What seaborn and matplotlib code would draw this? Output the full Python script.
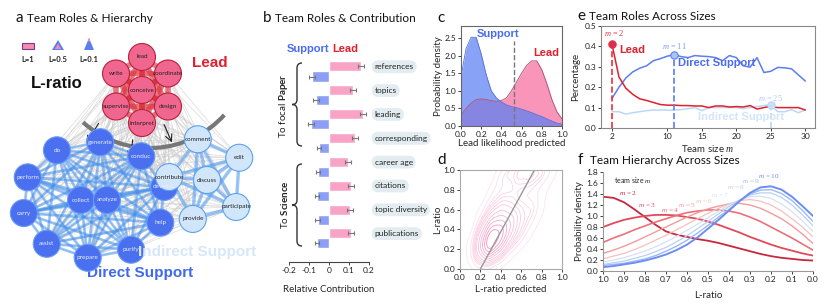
import numpy as np
import pandas as pd
import matplotlib.pyplot as plt
from matplotlib.patches import Circle, Rectangle, Polygon, Arc, PathPatch
from matplotlib.path import Path
from matplotlib.colors import LinearSegmentedColormap
import seaborn as sns

sns.set_theme(style="ticks")
plt.rcParams['font.family'] = ['Lato', 'DejaVu Sans']
plt.rcParams['mathtext.fontset'] = 'custom'
plt.rcParams['mathtext.it'] = 'Liberation Serif:italic'
plt.rcParams['mathtext.bf'] = 'Lato:bold'
plt.rcParams['mathtext.rm'] = 'Lato'

W, H = 831, 308
RED = '#e0202e'
BLUE = '#4a6cf0'

# ---- data ----
# a: role network
lead_core = ['conceive']
lead_ring = ['lead', 'write', 'supervise', 'interpret', 'design', 'coordinate']
direct_core = ['collect', 'analyze']
direct_ring = ['help', 'develop', 'conduct', 'generate', 'do', 'perform', 'carry', 'assist', 'prepare', 'purify']
indirect_core = ['discuss']
indirect_ring = ['participate', 'edit', 'comment', 'contribute', 'provide']
node_labels = {'generate': 'generate', 'conduct': 'conduc'}

# b: relative contribution
features = ['references', 'topics', 'leading', 'corresponding',
            'career age', 'citations', 'topic diversity', 'publications']
lead_contrib = [0.16, 0.12, 0.17, 0.13, 0.095, 0.11, 0.105, 0.108]
support_contrib = [-0.085, -0.065, -0.09, -0.05, -0.055, -0.06, -0.057, -0.06]
lead_err = [0.015, 0.015, 0.015, 0.015, 0.015, 0.015, 0.015, 0.015]
support_err = [0.015, 0.015, 0.015, 0.012, 0.012, 0.012, 0.012, 0.012]

# c: lead likelihood densities
likelihood = [0, .05, .1, .15, .2, .25, .3, .35, .4, .45, .5, .55, .6, .65, .7, .75, .8, .85, .9, .95, 1.0]
dens_support = [1.4, 2.2, 2.52, 2.52, 2.05, 1.45, 1.0, 0.8, 0.68, 0.6, 0.55, 0.52, 0.48, 0.43,
                0.38, 0.32, 0.27, 0.2, 0.14, 0.08, 0.05]
dens_lead = [0.3, 0.5, 0.65, 0.75, 0.77, 0.75, 0.72, 0.7, 0.72, 0.8, 1.0, 1.25, 1.5, 1.72,
             1.85, 1.85, 1.6, 1.2, 0.75, 0.4, 0.2]
threshold = 0.52

# d: L-ratio vs predicted (density grid, rows = L-ratio 0..1)
grid_vals = [0.0, 0.1, 0.2, 0.3, 0.4, 0.5, 0.6, 0.7, 0.8, 0.9, 1.0]
density_grid = [
    [0, 0, 0.3, 0.5, 0.3, 0, 0, 0, 0, 0, 0],
    [0, 0.3, 1.5, 2, 1, 0.3, 0, 0, 0, 0, 0],
    [0, 0.5, 3, 6, 3, 1, 0.3, 0, 0, 0, 0],
    [0, 0.5, 3, 8, 5, 2, 1, 0.3, 0, 0, 0],
    [0, 0, 2, 5, 5, 3, 1.5, 0.5, 0, 0, 0],
    [0, 0, 1, 3, 3.5, 3, 1.5, 1, 0.3, 0, 0],
    [0, 0, 0.5, 1.5, 2.5, 2, 1.5, 1.5, 0.5, 0, 0],
    [0, 0, 0, 1, 1.5, 1.5, 1, 1, 0.5, 0, 0],
    [0, 0, 0, 0.5, 1, 1, 1, 1, 0.5, 0, 0],
    [0, 0, 0, 0, 1, 1, 1.5, 1.5, 1, 0.5, 0],
    [0, 0, 0, 0, 1, 2, 3, 3, 2, 1, 0],
]
fit_x = [0.2, 0.73]
fit_y = [0.0, 1.0]

# e: role shares across team sizes
team_size = list(range(2, 31))
share_lead = [0.41, 0.25, 0.195, 0.165, 0.143, 0.135, 0.125, 0.115, 0.112, 0.112, 0.11, 0.11,
              0.108, 0.108, 0.1, 0.108, 0.108, 0.103, 0.105, 0.103, 0.11, 0.093, 0.1, 0.107,
              0.1, 0.1, 0.1, 0.1, 0.088]
share_direct = [0.145, 0.2, 0.245, 0.275, 0.293, 0.305, 0.33, 0.34, 0.352, 0.36, 0.35, 0.345,
                0.355, 0.352, 0.35, 0.345, 0.33, 0.355, 0.345, 0.305, 0.298, 0.345, 0.272,
                0.278, 0.297, 0.295, 0.29, 0.26, 0.23]
share_indirect = [0.08, 0.08, 0.068, 0.075, 0.08, 0.085, 0.088, 0.088, 0.088, 0.088, 0.09, 0.095,
                  0.1, 0.085, 0.1, 0.1, 0.1, 0.1, 0.1, 0.095, 0.1, 0.105, 0.11, 0.115, 0.08,
                  0.08, 0.09, 0.075, 0.09]

# f: L-ratio densities by team size
lratio = [1.0, .95, .9, .85, .8, .75, .7, .65, .6, .55, .5, .45, .4, .35, .3, .25, .2, .15, .1, .05, 0.0]
hier = {
    2: [1.35, 1.33, 1.25, 1.12, 0.98, 0.84, 0.72, 0.66, 0.62, 0.58, 0.55, 0.51, 0.46, 0.41, 0.36, 0.31, 0.27, 0.24, 0.22, 0.2, 0.19],
    3: [0.80, 0.87, 0.93, 0.97, 1.0, 1.02, 1.02, 1.01, 0.98, 0.95, 0.9, 0.84, 0.77, 0.7, 0.62, 0.55, 0.48, 0.42, 0.37, 0.32, 0.28],
    4: [0.52, 0.60, 0.67, 0.75, 0.82, 0.89, 0.95, 1.01, 1.06, 1.09, 1.11, 1.11, 1.09, 1.05, 0.98, 0.9, 0.8, 0.7, 0.6, 0.49, 0.38],
    5: [0.32, 0.38, 0.45, 0.53, 0.62, 0.71, 0.80, 0.89, 0.98, 1.06, 1.13, 1.18, 1.22, 1.23, 1.2, 1.14, 1.05, 0.95, 0.82, 0.67, 0.5],
    6: [0.22, 0.27, 0.32, 0.39, 0.47, 0.56, 0.65, 0.75, 0.85, 0.95, 1.05, 1.14, 1.22, 1.28, 1.3, 1.27, 1.2, 1.09, 0.95, 0.8, 0.62],
    7: [0.16, 0.2, 0.24, 0.3, 0.36, 0.44, 0.53, 0.63, 0.74, 0.85, 0.97, 1.09, 1.2, 1.29, 1.35, 1.36, 1.32, 1.22, 1.08, 0.91, 0.72],
    8: [0.12, 0.15, 0.18, 0.23, 0.28, 0.35, 0.43, 0.53, 0.64, 0.77, 0.9, 1.04, 1.17, 1.29, 1.38, 1.42, 1.42, 1.34, 1.2, 1.02, 0.82],
    9: [0.1, 0.12, 0.14, 0.18, 0.22, 0.28, 0.36, 0.45, 0.56, 0.69, 0.83, 0.98, 1.12, 1.27, 1.4, 1.47, 1.48, 1.41, 1.28, 1.1, 0.9],
    10: [0.07, 0.09, 0.12, 0.15, 0.19, 0.24, 0.3, 0.38, 0.48, 0.61, 0.77, 0.93, 1.1, 1.27, 1.42, 1.52, 1.54, 1.48, 1.35, 1.18, 1.0],
}
hier_colors = {2: '#c8283c', 3: '#e04a5a', 4: '#ec7078', 5: '#f39a9c', 6: '#f7c0bd',
               7: '#d3e3f7', 8: '#b8d0f6', 9: '#9cb8f5', 10: '#6b8ef2'}
hier_lw = {2: 1.3, 3: 1.3, 4: 1.2, 5: 1.0, 6: 0.9, 7: 0.9, 8: 0.9, 9: 1.0, 10: 1.4}
hier_label_pos = {2: (0.88, 1.42), 3: (0.79, 1.2), 4: (0.68, 1.1), 5: (0.60, 1.2), 6: (0.52, 1.28),
                  7: (0.44, 1.38), 8: (0.365, 1.52), 9: (0.295, 1.64), 10: (0.21, 1.73)}


def rect(l, t, r, b):
    return [l / W, (H - b) / H, (r - l) / W, (b - t) / H]


def style_ax(ax, spine_color='#777'):
    ax.tick_params(labelsize=6, length=2, width=0.6, pad=1.5, colors='#222')
    for s in ax.spines.values():
        s.set_color(spine_color)
        s.set_linewidth(0.8)


fig = plt.figure(figsize=(W / 100, H / 100), dpi=100)

# ---------------- b ----------------
ax_b = fig.add_axes(rect(289, 56, 369, 262))
df_b = pd.DataFrame({
    'feature': features * 2,
    'value': lead_contrib + support_contrib,
    'role': ['Lead'] * len(features) + ['Support'] * len(features),
})
sns.barplot(data=df_b, y='feature', x='value', hue='role', hue_order=['Lead', 'Support'],
            palette={'Lead': '#f9a3c6', 'Support': '#8c9ef5'}, orient='h', width=0.84,
            saturation=1, errorbar=None, legend=False, ax=ax_b)
for cont, errs in zip(ax_b.containers, [lead_err, support_err]):
    for bar, e in zip(cont, errs):
        yc = bar.get_y() + bar.get_height() / 2
        xe = bar.get_x() + bar.get_width()
        ax_b.errorbar(xe, yc, xerr=e, fmt='none', ecolor='#777', elinewidth=0.8, capsize=1.5, capthick=0.8)
for i, f in enumerate(features):
    ax_b.text(0.228, i - 0.2, f, fontsize=6, ha='left', va='center', color='#222', clip_on=False,
              bbox=dict(boxstyle='round,pad=0.35,rounding_size=0.8', fc='#e3edf1', ec='none'))
ax_b.set_xlim(-0.2, 0.2)
ax_b.set_ylim(7.99, -0.65)
ax_b.set_xticks([-0.2, -0.1, 0, 0.1, 0.2], ['-0.2', '-0.1', '0', '0.1', '0.2'])
ax_b.set_yticks([])
ax_b.set_xlabel('Relative Contribution', fontsize=7, labelpad=8)
ax_b.set_ylabel('')
sns.despine(ax=ax_b, left=True)
ax_b.patch.set_alpha(0)
style_ax(ax_b, '#444')

# ---------------- c ----------------
ax_c = fig.add_axes(rect(461, 26, 562, 126))
ax_c.fill_between(likelihood, dens_lead, color='#f883ad', alpha=0.85, lw=0)
ax_c.fill_between(likelihood, dens_support, color='#5b7ff2', alpha=0.72, lw=0)
sns.lineplot(x=likelihood, y=dens_lead, color='#b05a80', lw=0.7, ax=ax_c)
sns.lineplot(x=likelihood, y=dens_support, color='#5a6fd0', lw=0.6, ax=ax_c)
ax_c.vlines(threshold, 0, 2.4, colors='#777', linestyles='--', lw=1)
ax_c.text(0.37, 2.62, 'Support', color=BLUE, fontsize=8, fontweight='bold', ha='center', va='center',
          family='Liberation Sans')
ax_c.text(0.84, 2.07, 'Lead', color=RED, fontsize=8, fontweight='bold', ha='center', va='center',
          family='Liberation Sans')
ax_c.set_xlim(0, 1)
ax_c.set_ylim(0, 2.84)
ax_c.set_xticks([0, 0.2, 0.4, 0.6, 0.8, 1.0])
ax_c.set_yticks([0, 0.5, 1.0, 1.5, 2.0, 2.5])
ax_c.set_xlabel('Lead likelihood predicted', fontsize=7, labelpad=1)
ax_c.set_ylabel('Probability density', fontsize=7, labelpad=1)
style_ax(ax_c, '#666')

# ---------------- d ----------------
ax_d = fig.add_axes(rect(460, 170, 562, 269))
gx, gy = np.meshgrid(grid_vals, grid_vals)
pink_cmap = LinearSegmentedColormap.from_list('pk', ['#fde6ef', '#f27ab0'])
sns.kdeplot(x=gx.ravel(), y=gy.ravel(), weights=np.array(density_grid).ravel(), levels=13, thresh=0.04,
            bw_adjust=0.55, cmap=pink_cmap, linewidths=0.6, ax=ax_d)
sns.lineplot(x=fit_x, y=fit_y, color='#999', lw=1, ax=ax_d)
ax_d.set_xlim(0, 1)
ax_d.set_ylim(0, 1)
ax_d.set_xticks([0, 0.2, 0.4, 0.6, 0.8, 1.0])
ax_d.set_yticks([0, 0.2, 0.4, 0.6, 0.8, 1.0])
ax_d.set_xlabel('L-ratio predicted', fontsize=7, labelpad=3)
ax_d.set_ylabel('L-ratio', fontsize=7, labelpad=1)
style_ax(ax_d, '#aaa')

# ---------------- e ----------------
ax_e = fig.add_axes(rect(601, 26, 815, 128))
sns.lineplot(x=team_size, y=share_indirect, color='#b9d8f6', lw=1.1, ax=ax_e)
sns.lineplot(x=team_size, y=share_direct, color='#5b7ef0', lw=1.1, ax=ax_e)
sns.lineplot(x=team_size, y=share_lead, color='#e0202a', lw=1.1, ax=ax_e)
for m, series, col, fc in [(2, share_lead, '#e8303a', '#d83050'),
                           (11, share_direct, '#5b7ef0', '#a9c4f8'),
                           (25, share_indirect, '#b9d8f6', '#c9e0f8')]:
    v = series[team_size.index(m)]
    ax_e.vlines(m, 0, v, colors=col, linestyles='--', lw=1.2)
    ax_e.scatter([m], [v], s=28, color=fc, edgecolor=col, lw=0.8, zorder=5)
ax_e.text(2.3, 0.466, '$m$ = 2', color='#e8303a', fontsize=6, ha='center', va='center', family='Liberation Serif')
ax_e.text(11, 0.40, '$m$ = 11', color='#7d9cf4', fontsize=6, ha='center', va='center', family='Liberation Serif')
ax_e.text(25, 0.147, '$m$ = 25', color='#a9cdf4', fontsize=6, ha='center', va='center', family='Liberation Serif')
ax_e.text(3.0, 0.38, 'Lead', color=RED, fontsize=8, fontweight='bold', ha='left', va='center', family='Liberation Sans')
ax_e.text(11.6, 0.318, 'Direct Support', color='#4a6cf0', fontsize=8, fontweight='bold', ha='left',
          va='center', family='Liberation Sans')
ax_e.text(14.4, 0.054, 'Indirect Support', color='#d3e5f9', fontsize=8, fontweight='bold', ha='left',
          va='center', family='Liberation Sans')
ax_e.set_xlim(0.4, 31.4)
ax_e.set_ylim(0, 0.5)
ax_e.set_xticks([2, 10, 15, 20, 25, 30])
ax_e.set_yticks([0, 0.1, 0.2, 0.3, 0.4, 0.5])
ax_e.set_xlabel('Team size $m$', fontsize=7, labelpad=2)
ax_e.set_ylabel('Percentage', fontsize=7, labelpad=3)
style_ax(ax_e, '#888')

# ---------------- f ----------------
ax_f = fig.add_axes(rect(603, 172, 813, 271))
for m in range(2, 11):
    sns.lineplot(x=lratio, y=hier[m], color=hier_colors[m], lw=hier_lw[m], ax=ax_f)
    lx, ly = hier_label_pos[m]
    ax_f.text(lx, ly, f'$m$ = {m}', color=hier_colors[m], fontsize=5.2, ha='center', va='center',
              family='Liberation Serif')
ax_f.text(0.86, 1.65, 'team size $m$', fontsize=5, ha='center', va='center', color='#222')
ax_f.set_xlim(1.0, 0.0)
ax_f.set_ylim(0, 1.8)
ax_f.set_xticks([1.0, 0.9, 0.8, 0.7, 0.6, 0.5, 0.4, 0.3, 0.2, 0.1, 0.0])
ax_f.set_yticks([0, 0.2, 0.4, 0.6, 0.8, 1.0, 1.2, 1.4, 1.6, 1.8])
ax_f.set_xlabel('L-ratio', fontsize=7, labelpad=6)
ax_f.set_ylabel('Probability density', fontsize=7, labelpad=2)
sns.despine(ax=ax_f)
style_ax(ax_f, '#999')

# ---------------- overlay: panel a + titles ----------------
ov = fig.add_axes([0, 0, 1, 1])
ov.set_xlim(0, W)
ov.set_ylim(H, 0)
ov.axis('off')


def ring_layout(core, ring, cx, cy, rx, ry, start):
    pos = {}
    for i, n in enumerate(core):
        pos[n] = (cx + (i - (len(core) - 1) / 2) * 26, cy)
    for i, n in enumerate(ring):
        t = np.deg2rad(start) + 2 * np.pi * i / len(ring)
        pos[n] = (cx + rx * np.cos(t), cy - ry * np.sin(t))
    return pos


pos_lead = ring_layout(lead_core, lead_ring, 142, 90, 30, 33, 90)
pos_direct = ring_layout(direct_core, direct_ring, 94, 200, 72, 58, -23)
pos_indirect = ring_layout(indirect_core, indirect_ring, 207, 180, 38, 42, -40)
all_pos = {**pos_lead, **pos_direct, **pos_indirect}
names = list(all_pos)

# background gray edges
for i in range(len(names)):
    for j in range(i + 1, len(names)):
        (x1, y1), (x2, y2) = all_pos[names[i]], all_pos[names[j]]
        ov.plot([x1, x2], [y1, y2], color='#c8c8c8', lw=0.6, alpha=0.55, zorder=1)

for pos, col, lw, a in [(pos_direct, '#3d8ff0', 2.0, 0.5), (pos_indirect, '#5aa2f0', 2.5, 0.6),
                        (pos_lead, '#e02a36', 4.0, 0.6)]:
    ks = list(pos)
    for i in range(len(ks)):
        for j in range(i + 1, len(ks)):
            (x1, y1), (x2, y2) = pos[ks[i]], pos[ks[j]]
            ov.plot([x1, x2], [y1, y2], color=col, lw=lw, alpha=a, zorder=2, solid_capstyle='round')

ov.add_patch(Arc((150, 48), 200, 200, theta1=42, theta2=132, color='#777', lw=3, zorder=3))
for (x0, y0), (x1, y1) in [((100, 121), (85, 146)), ((133, 137), (130, 162)), ((163, 122), (173, 145))]:
    ov.annotate('', xy=(x1, y1), xytext=(x0, y0),
                arrowprops=dict(arrowstyle='->', color='#222', lw=0.8), zorder=4)

for pos, fc, ec, tc in [(pos_lead, '#f0668f', '#b8203c', '#222'),
                        (pos_direct, '#4a70f0', '#6a9af8', '#e6ecff'),
                        (pos_indirect, '#d2e6fb', '#5aa2f0', '#222')]:
    for n, (x, y) in pos.items():
        ov.add_patch(Circle((x, y), 13.5, fc=fc, ec=ec, lw=0.8, zorder=5))
        ov.text(x, y, node_labels.get(n, n), fontsize=4.6, ha='center', va='center', color=tc, zorder=6)

# legend icons
ov.add_patch(Rectangle((22, 43), 12, 6, fc='#f58ab0', ec='#7a3a8a', lw=0.8, zorder=5))
ov.add_patch(Polygon([(52, 50), (64, 50), (58, 40)], closed=True, fc='#5b7ef0', ec='none', zorder=5))
ov.add_patch(Polygon([(55, 49), (61, 49), (58, 43.5)], closed=True, fc='#f58ab0', ec='none', zorder=6))
ov.add_patch(Polygon([(84, 50), (94, 50), (89, 38)], closed=True, fc='#5b7ef0', ec='none', zorder=5))
ov.add_patch(Polygon([(87.5, 41.5), (90.5, 41.5), (89, 38)], closed=True, fc='#f58ab0', ec='none', zorder=6))
for x, t in [(28, 'L=1'), (58, 'L=0.5'), (89, 'L=0.1')]:
    ov.text(x, 60, t, fontsize=5.5, fontweight='bold', ha='center', va='center', color='#222')

ov.text(57, 84, 'L-ratio', fontsize=12, fontweight='bold', ha='center', va='center', color='#111',
        family='Liberation Sans')
ov.text(210, 63, 'Lead', fontsize=11, fontweight='bold', ha='center', va='center', color=RED,
        family='Liberation Sans')
ov.text(140, 273, 'Direct Support', fontsize=11, fontweight='bold', ha='center', va='center',
        color='#3f69ee', family='Liberation Sans')
ov.text(197, 252, 'Indirect Support', fontsize=11, fontweight='bold', ha='center', va='center',
        color='#d6e7fa', family='Liberation Sans', zorder=7)

# panel b extras
ov.text(329, 49, 'Support', fontsize=8, fontweight='bold', ha='right', va='center', color=BLUE,
        family='Liberation Sans')
ov.text(332, 49, 'Lead', fontsize=8, fontweight='bold', ha='left', va='center', color=RED,
        family='Liberation Sans')


def brace(x, y0, y1):
    ym = (y0 + y1) / 2
    verts = [(x + 5, y0), (x, y0), (x, y0 + 5), (x, ym - 5), (x, ym), (x - 5, ym),
             (x, ym), (x, ym + 5), (x, y1 - 5), (x, y1), (x + 5, y1)]
    codes = [Path.MOVETO, Path.CURVE3, Path.CURVE3, Path.LINETO, Path.CURVE3, Path.CURVE3,
             Path.CURVE3, Path.CURVE3, Path.LINETO, Path.CURVE3, Path.CURVE3]
    ov.add_patch(PathPatch(Path(verts, codes), fc='none', ec='#333', lw=1.0, zorder=5))


brace(297, 63, 146)
brace(297, 164, 246)
ov.text(284, 106, r'To focal $\mathbf{Paper}$', rotation=90, fontsize=7, ha='center', va='center', color='#222')
ov.text(284, 205, r'To $\mathbf{Science}$', rotation=90, fontsize=7, ha='center', va='center', color='#222')

# panel titles
for x, y, letter, title in [(15, 18, 'a', 'Team Roles & Hierarchy'), (263, 18, 'b', 'Team Roles & Contribution'),
                            (437, 18, 'c', ''), (437, 160, 'd', ''),
                            (577, 16, 'e', 'Team Roles Across Sizes'), (578, 160, 'f', 'Team Hierarchy Across Sizes')]:
    ov.text(x, y, letter, fontsize=11, ha='left', va='center', color='#111')
    if title:
        ov.text(x + 12, y + 1, title, fontsize=8.5, ha='left', va='center', color='#111')

fig.savefig('out.png', dpi=100)
